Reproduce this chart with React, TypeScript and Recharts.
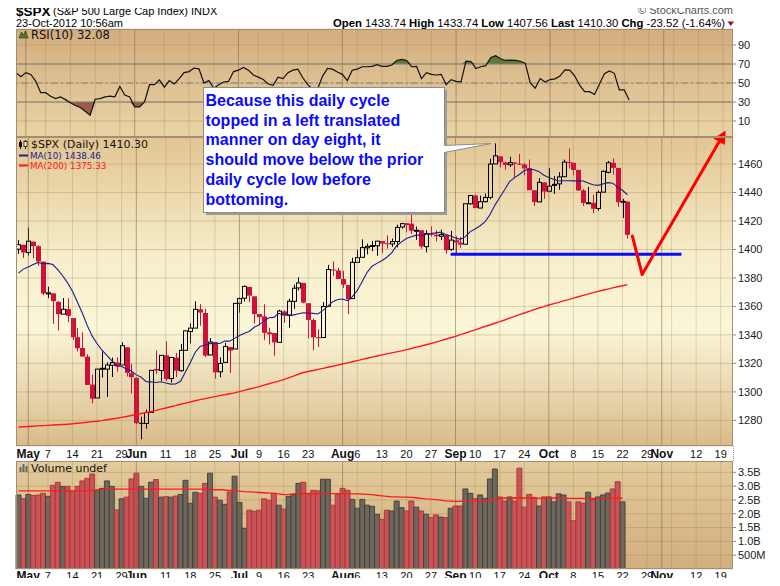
import React from 'react'
import {
  ComposedChart,
  Bar,
  Line,
  Area,
  XAxis,
  YAxis,
  CartesianGrid,
  ReferenceLine,
  Cell,
} from 'recharts'

// ---- data (index 0 = Apr 27 2012, slot k = -6 ; last bar = Oct 23 2012, k = 118) ----
const FIRST_K = -6
const LAST_SLOT_K = 139
const PRIOR_CLOSE = 1399.98

const OPEN = [
  1400.2, 1403.3, 1397.9, 1405.5, 1402.3, 1391.5, 1368.8, 1369.2, 1363.2, 1354.6,
  1358.1, 1351.9, 1338.4, 1330.8, 1324.8, 1305.1, 1295.7, 1316.1, 1316.0, 1318.7,
  1320.6, 1318.9, 1331.3, 1313.1, 1309.9, 1278.3, 1277.8, 1285.6, 1316.1, 1315.0,
  1325.7, 1309.4, 1324.0, 1314.9, 1329.2, 1342.4, 1344.8, 1358.0, 1355.4, 1325.9,
  1334.9, 1314.1, 1320.7, 1331.5, 1330.1, 1362.3, 1365.8, 1373.7, 1367.1, 1354.7,
  1353.0, 1341.4, 1341.3, 1334.8, 1356.5, 1353.7, 1363.6, 1373.0, 1376.5, 1362.3,
  1350.5, 1338.4, 1338.2, 1360.1, 1385.9, 1385.3, 1379.3, 1375.1, 1365.5, 1391.0,
  1394.5, 1401.2, 1402.3, 1402.6, 1405.9, 1404.4, 1403.9, 1405.6, 1415.8, 1417.9,
  1418.1, 1413.1, 1413.5, 1402.0, 1411.1, 1410.4, 1409.3, 1410.1, 1400.1, 1406.5,
  1404.9, 1403.7, 1432.1, 1437.9, 1429.1, 1433.6, 1436.6, 1460.1, 1465.4, 1461.2,
  1459.5, 1461.1, 1460.3, 1459.8, 1457.2, 1441.6, 1433.4, 1447.1, 1440.9, 1445.0,
  1446.1, 1451.1, 1461.4, 1460.9, 1455.9, 1441.5, 1432.8, 1432.8, 1428.8, 1440.3,
  1454.2, 1460.9, 1457.3, 1433.2, 1433.7,
]

const HIGH = [
  1406.6, 1403.3, 1415.3, 1405.5, 1403.1, 1391.5, 1373.9, 1369.2, 1363.7, 1365.9,
  1365.7, 1351.9, 1344.9, 1341.8, 1326.4, 1312.2, 1316.4, 1328.5, 1320.7, 1324.1,
  1324.2, 1334.9, 1331.3, 1319.7, 1309.9, 1282.6, 1287.6, 1315.1, 1329.1, 1325.8,
  1335.5, 1324.3, 1327.3, 1333.7, 1343.3, 1348.2, 1363.5, 1361.6, 1358.3, 1337.8,
  1334.9, 1324.2, 1334.4, 1331.5, 1362.2, 1366.4, 1374.8, 1373.9, 1367.1, 1354.9,
  1361.5, 1345.0, 1341.3, 1357.7, 1357.3, 1365.4, 1375.3, 1380.4, 1376.5, 1362.3,
  1351.5, 1344.0, 1363.1, 1389.2, 1391.7, 1387.2, 1385.0, 1375.1, 1394.2, 1399.6,
  1407.1, 1404.1, 1406.0, 1406.0, 1405.9, 1410.0, 1407.7, 1417.4, 1418.7, 1418.6,
  1426.7, 1416.1, 1413.5, 1413.5, 1416.2, 1413.6, 1414.0, 1410.1, 1413.1, 1409.3,
  1408.8, 1432.1, 1437.9, 1438.7, 1437.8, 1439.2, 1463.8, 1474.5, 1465.6, 1461.5,
  1465.2, 1461.2, 1467.1, 1460.7, 1463.2, 1441.6, 1450.2, 1447.1, 1457.1, 1451.5,
  1454.3, 1463.1, 1471.0, 1460.9, 1455.9, 1442.5, 1443.9, 1438.4, 1441.3, 1455.5,
  1462.2, 1464.0, 1457.3, 1435.5, 1433.7,
]

const LOW = [
  1397.0, 1394.0, 1395.7, 1393.9, 1388.7, 1368.0, 1365.9, 1347.8, 1343.1, 1354.6,
  1348.9, 1336.6, 1328.4, 1324.8, 1304.9, 1292.0, 1295.7, 1310.0, 1296.5, 1310.5,
  1314.2, 1318.9, 1310.8, 1298.9, 1277.3, 1266.7, 1274.2, 1285.6, 1312.7, 1307.8,
  1307.7, 1306.6, 1310.5, 1314.1, 1329.2, 1334.0, 1344.8, 1346.5, 1324.4, 1325.9,
  1309.3, 1310.3, 1320.7, 1313.3, 1330.1, 1355.7, 1363.5, 1363.0, 1348.0, 1346.7,
  1336.3, 1333.3, 1325.4, 1334.8, 1348.5, 1345.1, 1358.3, 1371.2, 1362.2, 1337.6,
  1329.2, 1331.5, 1338.2, 1360.1, 1381.4, 1379.2, 1373.1, 1354.7, 1365.5, 1391.0,
  1394.5, 1396.6, 1398.8, 1395.6, 1397.3, 1400.6, 1401.8, 1401.5, 1414.7, 1412.1,
  1410.9, 1406.8, 1400.5, 1398.0, 1409.1, 1405.6, 1406.6, 1397.0, 1399.0, 1396.6,
  1401.3, 1403.7, 1431.4, 1429.0, 1429.1, 1433.0, 1435.3, 1460.1, 1457.6, 1456.1,
  1457.9, 1450.0, 1459.5, 1452.1, 1441.6, 1430.5, 1433.4, 1435.6, 1440.9, 1439.0,
  1442.0, 1451.1, 1456.9, 1452.1, 1441.2, 1430.6, 1432.8, 1425.5, 1427.2, 1440.3,
  1453.4, 1452.6, 1429.9, 1422.1, 1407.6,
]

const CLOSE = [
  1403.36, 1397.91, 1405.82, 1402.31, 1391.57, 1369.10, 1369.58, 1363.72, 1354.58, 1357.99,
  1353.39, 1338.35, 1330.66, 1324.80, 1304.86, 1295.22, 1315.99, 1316.63, 1318.86, 1320.68,
  1317.82, 1332.42, 1313.32, 1310.33, 1278.04, 1278.18, 1285.50, 1315.13, 1314.99, 1325.66,
  1308.93, 1324.18, 1314.88, 1329.10, 1342.84, 1344.78, 1357.98, 1355.69, 1325.51, 1335.02,
  1313.72, 1319.99, 1331.85, 1329.04, 1362.16, 1365.51, 1374.02, 1367.58, 1354.68, 1352.46,
  1341.47, 1341.45, 1334.76, 1356.78, 1353.64, 1363.67, 1372.78, 1376.51, 1362.66, 1350.52,
  1338.31, 1337.89, 1360.02, 1385.97, 1385.30, 1379.32, 1375.32, 1365.00, 1390.99, 1394.23,
  1401.35, 1402.22, 1402.80, 1405.87, 1404.11, 1403.93, 1405.53, 1415.51, 1418.16, 1418.13,
  1413.17, 1413.49, 1402.08, 1411.13, 1410.44, 1409.30, 1410.49, 1399.48, 1406.58, 1404.94,
  1403.44, 1432.12, 1437.92, 1429.08, 1433.56, 1436.56, 1459.99, 1465.77, 1461.19, 1459.32,
  1461.05, 1460.26, 1460.15, 1456.89, 1441.59, 1433.32, 1447.15, 1440.67, 1444.49, 1445.75,
  1450.99, 1461.40, 1460.93, 1455.88, 1441.48, 1432.56, 1432.84, 1428.59, 1440.13, 1454.92,
  1460.91, 1457.34, 1433.19, 1433.81, 1410.30,
]

const MA10 = [
  1383.39, 1386.22, 1387.73, 1389.44, 1390.91, 1389.97, 1390.23, 1389.40, 1385.79, 1381.59,
  1376.60, 1370.64, 1363.13, 1355.37, 1346.70, 1339.32, 1333.96, 1329.25, 1325.68, 1321.94,
  1318.39, 1317.79, 1316.06, 1314.61, 1311.93, 1310.23, 1307.18, 1307.03, 1306.64, 1307.14,
  1306.25, 1305.43, 1305.58, 1307.46, 1313.94, 1320.60, 1327.85, 1331.90, 1332.96, 1333.89,
  1334.37, 1333.95, 1335.65, 1335.64, 1337.57, 1339.65, 1341.25, 1342.44, 1345.36, 1347.10,
  1349.88, 1352.02, 1352.31, 1355.09, 1354.24, 1354.05, 1353.93, 1354.82, 1355.62, 1355.42,
  1355.11, 1354.75, 1357.28, 1360.20, 1363.36, 1364.93, 1365.18, 1364.03, 1366.86, 1371.24,
  1377.54, 1383.97, 1388.25, 1390.24, 1392.12, 1394.58, 1397.60, 1402.65, 1405.37, 1407.76,
  1408.94, 1410.07, 1410.00, 1410.52, 1411.16, 1411.69, 1412.19, 1410.59, 1409.43, 1408.11,
  1407.14, 1409.00, 1412.58, 1414.38, 1416.69, 1419.42, 1424.37, 1431.00, 1436.46, 1441.90,
  1447.66, 1450.47, 1452.69, 1455.47, 1456.28, 1455.95, 1454.67, 1452.16, 1450.49, 1449.13,
  1448.13, 1448.24, 1448.32, 1448.22, 1448.21, 1448.13, 1446.70, 1445.49, 1445.06, 1445.97,
  1446.96, 1446.56, 1443.78, 1441.58, 1438.46,
]

const MA200 = [
  1275.3, 1275.5, 1275.7, 1275.9, 1276.1, 1276.3, 1276.5, 1276.7, 1276.9, 1277.1,
  1277.3, 1277.6, 1278.0, 1278.3, 1278.7, 1279.1, 1279.4, 1279.8, 1280.4, 1281.0,
  1281.5, 1282.1, 1282.7, 1283.4, 1284.1, 1284.8, 1285.5, 1286.2, 1287.0, 1287.9,
  1288.7, 1289.6, 1290.4, 1291.3, 1292.1, 1292.9, 1293.8, 1294.6, 1295.3, 1296.0,
  1296.7, 1297.4, 1298.0, 1298.7, 1299.3, 1300.2, 1301.1, 1302.0, 1302.8, 1303.7,
  1304.7, 1305.7, 1306.7, 1307.6, 1308.6, 1309.9, 1311.1, 1312.4, 1313.6, 1314.3,
  1315.0, 1315.8, 1316.5, 1317.3, 1318.0, 1318.8, 1319.6, 1320.4, 1321.2, 1322.0,
  1322.8, 1323.6, 1324.4, 1325.2, 1326.0, 1326.7, 1327.4, 1328.1, 1328.8, 1329.7,
  1330.5, 1331.4, 1332.2, 1333.1, 1334.0, 1335.0, 1336.0, 1337.0, 1338.0, 1339.0,
  1340.2, 1341.3, 1342.5, 1343.6, 1344.8, 1345.9, 1347.0, 1348.2, 1349.3, 1350.5,
  1351.8, 1353.0, 1354.2, 1355.4, 1356.6, 1357.8, 1358.9, 1359.9, 1361.0, 1362.0,
  1362.9, 1363.9, 1364.8, 1365.8, 1366.8, 1367.8, 1368.7, 1369.7, 1370.6, 1371.4,
  1372.2, 1373.0, 1373.8, 1374.5, 1375.33,
]

const RSI10 = [
  60.9, 56.5, 60.9, 59.0, 51.8, 39.8, 39.8, 36.0, 33.6, 35.4,
  32.5, 29.2, 26.3, 24.2, 20.2, 16.2, 32.9, 33.6, 35.4, 36.2,
  35.4, 46.4, 37.3, 35.4, 24.9, 24.9, 30.0, 48.2, 48.2, 53.3,
  45.6, 52.5, 48.9, 54.7, 60.9, 62.0, 65.7, 64.9, 50.0, 52.5,
  44.5, 48.2, 51.0, 51.8, 62.0, 63.5, 66.4, 63.5, 58.4, 56.2,
  53.6, 48.9, 47.5, 56.2, 54.7, 60.9, 63.5, 64.6, 55.5, 48.2,
  43.4, 43.8, 57.3, 65.3, 64.6, 61.6, 59.1, 52.5, 63.5, 64.6,
  67.1, 67.1, 67.5, 69.3, 67.5, 67.5, 68.9, 73.7, 74.8, 73.7,
  67.1, 67.5, 54.7, 60.9, 59.1, 58.4, 59.1, 48.2, 53.6, 51.8,
  51.1, 72.9, 72.6, 65.3, 67.1, 68.2, 76.6, 78.8, 75.5, 73.7,
  74.1, 73.7, 72.9, 70.7, 50.0, 44.5, 54.7, 51.1, 53.6, 54.4,
  57.3, 63.8, 63.5, 57.3, 47.5, 40.9, 40.9, 38.0, 48.9, 59.8,
  62.7, 60.2, 42.7, 42.7, 32.08,
]

// billions of shares; today's volume is undefined
const VOLUME: (number | null)[] = [
  2.68, 2.54, 2.70, 2.66, 2.68, 2.74, 2.63, 3.03, 3.14, 2.99,
  2.99, 2.80, 2.99, 3.19, 3.28, 3.44, 2.83, 2.92, 3.19, 2.99,
  2.14, 2.54, 2.60, 3.26, 3.47, 2.99, 2.56, 3.14, 3.24, 2.60,
  2.62, 2.60, 2.64, 2.70, 3.21, 2.38, 2.78, 2.74, 3.10, 3.47,
  2.60, 2.49, 2.34, 2.79, 3.36, 2.41, 1.47, 2.13, 2.09, 2.13,
  2.54, 2.49, 2.74, 2.31, 2.17, 2.63, 2.70, 3.10, 3.14, 2.74,
  2.85, 2.83, 3.25, 3.25, 2.31, 2.70, 2.92, 2.85, 2.52, 2.20,
  2.52, 2.31, 2.27, 1.98, 1.80, 2.13, 2.10, 2.46, 2.22, 2.10,
  2.46, 2.24, 2.10, 1.98, 1.86, 1.96, 1.88, 1.86, 2.20, 2.28,
  2.28, 2.90, 2.74, 2.55, 2.68, 2.56, 3.26, 3.62, 2.61, 2.46,
  2.61, 2.46, 3.65, 2.24, 2.70, 2.59, 2.28, 2.61, 2.61, 2.43,
  2.72, 2.68, 2.43, 1.75, 2.43, 2.38, 2.78, 2.52, 2.61, 2.68,
  2.75, 2.90, 3.16, 2.43, null,
]

const VOL_MA: (number | null)[] = [
  2.83, 2.83, 2.83, 2.83, 2.83, 2.83, 2.83, 2.83, 2.83, 2.83,
  2.83, 2.83, 2.83, 2.83, 2.83, 2.85, 2.87, 2.88, 2.89, 2.89,
  2.89, 2.89, 2.89, 2.89, 2.89, 2.89, 2.89, 2.89, 2.89, 2.89,
  2.89, 2.89, 2.89, 2.89, 2.89, 2.89, 2.89, 2.89, 2.88, 2.88,
  2.87, 2.87, 2.86, 2.85, 2.85, 2.82, 2.80, 2.79, 2.78, 2.77,
  2.76, 2.75, 2.74, 2.72, 2.69, 2.70, 2.72, 2.73, 2.73, 2.73,
  2.73, 2.73, 2.73, 2.73, 2.73, 2.73, 2.73, 2.72, 2.72, 2.72,
  2.71, 2.70, 2.69, 2.67, 2.65, 2.63, 2.61, 2.61, 2.60, 2.60,
  2.59, 2.58, 2.56, 2.54, 2.53, 2.51, 2.49, 2.47, 2.46, 2.45,
  2.45, 2.45, 2.46, 2.47, 2.47, 2.47, 2.48, 2.52, 2.56, 2.57,
  2.57, 2.58, 2.57, 2.57, 2.57, 2.57, 2.56, 2.57, 2.57, 2.57,
  2.57, 2.56, 2.56, 2.56, 2.56, 2.56, 2.56, 2.56, 2.55, 2.55,
  2.56, 2.56, 2.57, 2.57, null,
]

const TICK_K = [-4, 0, 5, 10, 15, 18, 24, 29, 34, 39, 43, 48, 53, 60, 63, 68, 73, 78, 83, 87, 92, 97, 102, 107, 112, 117, 122, 125, 132, 137]
const TICK_LABEL = ['May', '7', '14', '21', '29', 'Jun', '11', '18', '25', 'Jul', '9', '16', '23', 'Aug', '6', '13', '20', '27', 'Sep', '10', '17', '24', 'Oct', '8', '15', '22', '29', 'Nov', '12', '19']
const EXTRA_GRID_K = [127]

const PRICE_TICKS = [1280, 1300, 1320, 1340, 1360, 1380, 1400, 1420, 1440, 1460]
const RSI_TICKS = [10, 30, 50, 70, 90]
const VOL_TICKS = [0.5, 1, 1.5, 2, 2.5, 3, 3.5]

// ---- styling ----
const SANS = "Arial, 'Liberation Sans', Helvetica, sans-serif"
const LEGEND_FONT = "'DejaVu Sans', Verdana, sans-serif"
const RED = '#d0103a'
const PLOT_LEFT = 16
const AXIS_W = 47
const WEEK_GRID = 'rgba(150,118,70,0.26)'
const MONTH_GRID = 'rgba(120,92,55,0.5)'
const H_GRID = 'rgba(150,118,70,0.3)'

const rows = Array.from({ length: LAST_SLOT_K - FIRST_K + 1 }, (_, s) => {
  const k = s + FIRST_K
  if (s >= CLOSE.length) return { k }
  const c = CLOSE[s]
  const pc = s > 0 ? CLOSE[s - 1] : PRIOR_CLOSE
  const r = RSI10[s]
  return {
    k,
    o: OPEN[s],
    h: HIGH[s],
    l: LOW[s],
    c,
    pc,
    range: [LOW[s], HIGH[s]],
    ma10: MA10[s],
    ma200: MA200[s],
    rsi: r,
    rsiHi: [70, Math.max(70, r)],
    rsiLo: [Math.min(30, r), 30],
    vol: VOLUME[s],
    volMa: VOL_MA[s],
    up: c >= pc,
  }
})

const gridKs = [...TICK_K, ...EXTRA_GRID_K]
const monthKs = TICK_K.filter((_, i) => /[A-Za-z]/.test(TICK_LABEL[i]))

function DateTick(props: any) {
  const { x, y, payload, drop = 12 } = props
  const i = TICK_K.indexOf(payload.value)
  if (i < 0) return <g />
  const label = TICK_LABEL[i]
  const bold = /[A-Za-z]/.test(label)
  return (
    <text
      x={x}
      y={y + drop}
      textAnchor="middle"
      fontFamily={SANS}
      fontSize={bold ? 12 : 11}
      fontWeight={bold ? 700 : 400}
      fill="#111"
    >
      {label}
    </text>
  )
}

function Candle(props: any) {
  const { x, y, width, height, payload } = props
  if (!payload || payload.o == null) return <g />
  const { o, h, l, c, pc } = payload
  const color = c >= pc ? '#000000' : RED
  const cx = Math.round(x + width / 2) + 0.5
  const ppu = h > l ? height / (h - l) : 0
  const yHi = y
  const yLo = y + height
  const top = y + (h - Math.max(o, c)) * ppu
  let bot = y + (h - Math.min(o, c)) * ppu
  if (bot - top < 1) bot = top + 1
  if (c >= o) {
    return (
      <g>
        <line x1={cx} x2={cx} y1={yHi} y2={top} stroke={color} strokeWidth={1} />
        <line x1={cx} x2={cx} y1={bot} y2={yLo} stroke={color} strokeWidth={1} />
        <rect x={cx - 2} y={top} width={4} height={Math.max(bot - top, 0.5)} fill="none" stroke={color} strokeWidth={1} />
      </g>
    )
  }
  return (
    <g>
      <line x1={cx} x2={cx} y1={yHi} y2={yLo} stroke={color} strokeWidth={1} />
      <rect x={cx - 2.5} y={top} width={5} height={bot - top} fill={color} />
    </g>
  )
}

function ArrowShape(props: any) {
  const { x1, y1, x2, y2 } = props
  const ang = Math.atan2(y2 - y1, x2 - x1)
  const len = 13
  const half = 6.5
  const bx = x2 - len * Math.cos(ang)
  const by = y2 - len * Math.sin(ang)
  const px = -Math.sin(ang) * half
  const py = Math.cos(ang) * half
  return (
    <g>
      <line x1={x1} y1={y1} x2={bx} y2={by} stroke="#ff0000" strokeWidth={3} strokeLinecap="round" />
      <polygon points={`${x2},${y2} ${bx + px},${by + py} ${bx - px},${by - py}`} fill="#ff0000" />
    </g>
  )
}

function gridLines() {
  return gridKs.map((k) => (
    <ReferenceLine
      key={`g${k}`}
      x={k}
      stroke={monthKs.includes(k) ? MONTH_GRID : WEEK_GRID}
      strokeWidth={1}
    />
  ))
}

const rightAxis = {
  orientation: 'right' as const,
  width: AXIS_W,
  interval: 0 as const,
  allowDataOverflow: true,
  axisLine: false,
  tickSize: 3,
  tickMargin: 2,
  tickLine: { stroke: '#9a8470' },
  tick: { fontSize: 11, fill: '#222', fontFamily: SANS },
}

function RsiChart() {
  return (
    <ComposedChart width={780} height={140} data={rows} margin={{ top: 29, right: 0, bottom: 3, left: PLOT_LEFT }}>
      <defs>
        <linearGradient id="rsiBg" x1="0" y1="0" x2="0" y2="1">
          <stop offset="0%" stopColor="#d3ad7e" />
          <stop offset="100%" stopColor="#e9d4a6" />
        </linearGradient>
      </defs>
      <CartesianGrid vertical={false} stroke={H_GRID} fill="url(#rsiBg)" />
      <XAxis dataKey="k" type="category" hide />
      <YAxis {...rightAxis} domain={[-6.8, 106.8]} ticks={RSI_TICKS} />
      {gridLines()}
      <ReferenceLine y={70} stroke="#7d7d7d" strokeWidth={1.2} />
      <ReferenceLine y={30} stroke="#7d7d7d" strokeWidth={1.2} />
      <ReferenceLine y={50} stroke="#808080" strokeWidth={1} strokeDasharray="7 3 2 3" />
      <Area dataKey="rsiHi" type="linear" stroke="none" fill="#5d7a38" fillOpacity={1} isAnimationActive={false} />
      <Area dataKey="rsiLo" type="linear" stroke="none" fill="#9b5b45" fillOpacity={1} isAnimationActive={false} />
      <Line dataKey="rsi" type="linear" stroke="#111" strokeWidth={1.2} dot={false} isAnimationActive={false} />
    </ComposedChart>
  )
}

function PriceChart() {
  return (
    <ComposedChart width={780} height={361} data={rows} margin={{ top: 37, right: 0, bottom: 0, left: PLOT_LEFT }}>
      <defs>
        <linearGradient id="priceBg" x1="0" y1="0" x2="0" y2="1">
          <stop offset="0%" stopColor="#e2c592" />
          <stop offset="40%" stopColor="#f7efcc" />
          <stop offset="62%" stopColor="#faf6d8" />
          <stop offset="100%" stopColor="#d9bb8a" />
        </linearGradient>
      </defs>
      <CartesianGrid vertical={false} stroke={H_GRID} fill="url(#priceBg)" />
      <XAxis
        dataKey="k"
        type="category"
        interval={0}
        height={15}
        axisLine={false}
        tickLine={false}
        tickSize={0}
        tickMargin={0}
        tick={<DateTick drop={12} />}
      />
      <YAxis {...rightAxis} domain={[1262, 1479]} ticks={PRICE_TICKS} />
      {gridLines()}
      <Line dataKey="ma200" type="linear" stroke="#ff1a1a" strokeWidth={1.4} dot={false} isAnimationActive={false} />
      <Line dataKey="ma10" type="linear" stroke="#1c1c8c" strokeWidth={1.1} dot={false} isAnimationActive={false} />
      <Bar dataKey="range" shape={(p: any) => <Candle {...p} />} isAnimationActive={false} />
      <ReferenceLine
        segment={[{ x: 82, y: 1396.7 }, { x: 129, y: 1396.7 }]}
        stroke="#0a0aff"
        strokeWidth={3}
        ifOverflow="visible"
      />
      <ReferenceLine
        segment={[{ x: 119, y: 1409.5 }, { x: 121, y: 1382.5 }]}
        stroke="#ff0000"
        strokeWidth={3}
        strokeLinecap="round"
        ifOverflow="visible"
      />
      <ReferenceLine
        segment={[{ x: 121, y: 1382.5 }, { x: 138, y: 1483.5 }]}
        ifOverflow="visible"
        shape={(p: any) => <ArrowShape {...p} />}
      />
    </ComposedChart>
  )
}

function VolumeChart() {
  return (
    <ComposedChart
      width={780}
      height={125}
      data={rows}
      barCategoryGap={0}
      margin={{ top: 0, right: 0, bottom: 0, left: PLOT_LEFT }}
    >
      <defs>
        <linearGradient id="volBg" x1="0" y1="0" x2="0" y2="1">
          <stop offset="0%" stopColor="#e3cb9b" />
          <stop offset="100%" stopColor="#d2ae7e" />
        </linearGradient>
      </defs>
      <CartesianGrid vertical={false} stroke={H_GRID} fill="url(#volBg)" />
      <XAxis
        dataKey="k"
        type="category"
        interval={0}
        height={17}
        axisLine={false}
        tickLine={false}
        tickSize={0}
        tickMargin={0}
        tick={<DateTick drop={11} />}
      />
      <YAxis
        {...rightAxis}
        domain={[0, 3.91]}
        ticks={VOL_TICKS}
        tickFormatter={(v: number) => (v < 1 ? `${Math.round(v * 1000)}M` : `${v.toFixed(1)}B`)}
      />
      {gridLines()}
      <Bar dataKey="vol" isAnimationActive={false}>
        {rows.map((r: any) => (
          <Cell
            key={r.k}
            fill={r.up ? '#6e675d' : '#c95457'}
            stroke={r.up ? '#413d38' : '#a8323a'}
            strokeWidth={0.9}
          />
        ))}
      </Bar>
      <Line dataKey="volMa" type="linear" stroke="#ff1a1a" strokeWidth={1.3} dot={false} isAnimationActive={false} />
    </ComposedChart>
  )
}

const CALLOUT = [
  'Because this daily cycle',
  'topped in a left translated',
  'manner on day eight, it',
  'should move below the prior',
  'daily cycle low before',
  'bottoming.',
]

function Overlay() {
  return (
    <svg width={780} height={586} style={{ position: 'absolute', left: 0, top: 0, pointerEvents: 'none' }}>
      {/* header */}
      <text x={16} y={16} fontFamily={SANS} fontSize={13.5} fontWeight={700} fill="#000">$SPX</text>
      <text x={53} y={15} fontFamily={SANS} fontSize={11} fill="#000">{'(S&P 500 Large Cap Index) INDX'}</text>
      <text x={16} y={27} fontFamily={SANS} fontSize={11} fill="#000">23-Oct-2012 10:56am</text>
      <text x={733} y={14} textAnchor="end" fontFamily={SANS} fontSize={11} fill="#555">© StockCharts.com</text>
      <text x={725} y={27} textAnchor="end" fontFamily={SANS} fontSize={11.3} fill="#000">
        <tspan fontWeight={700}>Open</tspan> 1433.74 <tspan fontWeight={700}>High</tspan> 1433.74{' '}
        <tspan fontWeight={700}>Low</tspan> 1407.56 <tspan fontWeight={700}>Last</tspan> 1410.30{' '}
        <tspan fontWeight={700}>Chg</tspan> -23.52 (-1.64%)
      </text>
      <polygon points="727.5,21.5 734,21.5 730.75,26" fill="#8e1238" />

      {/* panel frames */}
      <rect x={16.5} y={29.5} width={716} height={107} fill="none" stroke="#a58d75" />
      <rect x={16.5} y={137.5} width={716} height={308} fill="none" stroke="#a58d75" />
      <rect x={16.5} y={461.5} width={716} height={107} fill="none" stroke="#a58d75" />
      <line x1={733.5} y1={446} x2={733.5} y2={461} stroke="#b09080" strokeDasharray="1 1" />

      {/* RSI legend */}
      <polygon points="19,38 21.5,32 23.5,35 25.5,31 28,38" fill="#4f7a2e" stroke="#2a2a2a" strokeWidth={0.6} />
      <text x={31} y={39} fontFamily={LEGEND_FONT} fontSize={11.5} fill="#111">RSI(10) 32.08</text>

      {/* price legend */}
      <line x1={20.5} y1={140} x2={20.5} y2={149} stroke="#111" />
      <rect x={19} y={142} width={3} height={5} fill="#111" />
      <line x1={25.5} y1={140} x2={25.5} y2={149} stroke="#111" />
      <rect x={24} y={141.5} width={3} height={5} fill="#fff" stroke="#111" strokeWidth={0.8} />
      <text x={31} y={148} fontFamily={LEGEND_FONT} fontSize={11} fill="#111">$SPX (Daily) 1410.30</text>
      <line x1={19} y1={155.5} x2={28} y2={155.5} stroke="#1c1c8c" strokeWidth={2} />
      <text x={30} y={159} fontFamily={LEGEND_FONT} fontSize={8.8} fill="#1c1c8c">MA(10) 1438.46</text>
      <line x1={19} y1={165.5} x2={28} y2={165.5} stroke="#ff1a1a" strokeWidth={2} />
      <text x={30} y={169} fontFamily={LEGEND_FONT} fontSize={8.8} fill="#ff1a1a">MA(200) 1375.33</text>

      {/* volume legend */}
      <rect x={19.5} y={467} width={2} height={5} fill="#666" />
      <rect x={22.5} y={464} width={2} height={8} fill="#666" />
      <rect x={25.5} y={466} width={2} height={6} fill="#666" />
      <text x={31} y={472} fontFamily={LEGEND_FONT} fontSize={11} fill="#111">Volume undef</text>

      {/* callout */}
      <rect x={206} y={90} width={241} height={125} fill="#9c9c9c" />
      <rect x={203.5} y={87.5} width={241} height={125} fill="#ffffff" stroke="#8c8c8c" />
      <polygon points="443,145.5 491,143.5 443,152.5" fill="#ffffff" />
      <polyline points="444.5,145.5 491,143.5 444.5,152.5" fill="none" stroke="#8c8c8c" />
      {CALLOUT.map((t, i) => (
        <text
          key={i}
          x={205.5}
          y={106 + i * 19.7}
          fontFamily={SANS}
          fontSize={16}
          fontWeight={700}
          fill="#0a0aff"
        >
          {t}
        </text>
      ))}
    </svg>
  )
}

export default function App() {
  return (
    <div style={{ position: 'relative', width: 780, height: 586, margin: -8, background: '#fff', overflow: 'hidden' }}>
      <div style={{ position: 'absolute', left: 0, top: 0 }}>
        <RsiChart />
      </div>
      <div style={{ position: 'absolute', left: 0, top: 461 }}>
        <VolumeChart />
      </div>
      <div style={{ position: 'absolute', left: 0, top: 100 }}>
        <PriceChart />
      </div>
      <Overlay />
    </div>
  )
}
